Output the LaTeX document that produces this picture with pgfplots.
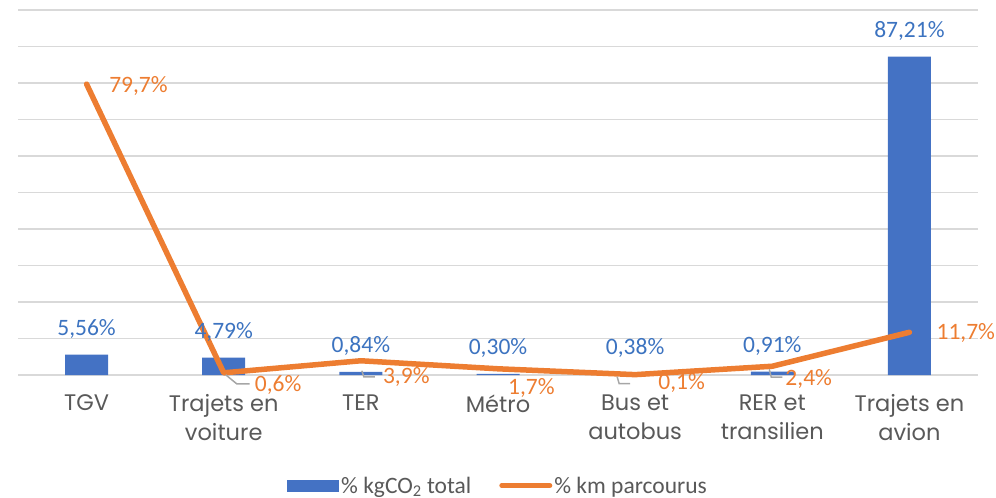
\documentclass[border=0pt]{standalone}
\usepackage{fontspec}
\setmainfont{Carlito}
\newfontfamily\catfont{Poppins}
\usepackage{pgfplots}
\pgfplotsset{compat=1.18}
\definecolor{cblue}{HTML}{4472C4}
\definecolor{cbluetxt}{HTML}{3C73C0}
\definecolor{corange}{HTML}{ED7D31}
\definecolor{cgray}{HTML}{595959}
\definecolor{cgrid}{HTML}{D9D9D9}
\definecolor{clead}{HTML}{A6A6A6}
\begin{document}
\begin{tikzpicture}
\useasboundingbox (0,0) rectangle (996pt,498pt);
\begin{axis}[
 at={(18pt,123pt)}, anchor=south west,
 scale only axis, width=960pt, height=365pt,
 xmin=-0.5, xmax=6.5, ymin=0, ymax=100,
 ytick={0,10,...,100}, yticklabels={},
 ymajorgrids, grid style={cgrid, line width=1.5pt},
 axis line style={draw=none}, major tick length=0pt,
 xtick={0,1,2,3,4,5,6},
 xticklabels={TGV, Trajets en\\voiture, TER, Métro, Bus et\\autobus, RER et\\transilien, Trajets en\\avion},
 xticklabel style={font=\catfont\fontsize{22.5}{29}\selectfont, text=cgray, align=center, anchor=north, yshift=-16pt},
 clip=false,
 legend style={at={(0.5,-0.303)}, anchor=center, draw=none, fill=none, legend columns=2,
   font=\fontsize{23.5}{28}\selectfont, text=cgray,
   /tikz/every even column/.append style={column sep=26pt}},
 legend cell align=left,
]
\addplot[ybar, bar width=43pt, fill=cblue, draw=none,
  point meta=explicit symbolic, nodes near coords,
  every node near coord/.append style={font=\fontsize{23.5}{28}\selectfont, text=cbluetxt, anchor=center, yshift=26pt},
  legend image code/.code={\fill[cblue] (0pt,-6pt) rectangle (52pt,6pt);}]
  coordinates {(0,5.56)[5,56\%] (1,4.79)[4,79\%] (2,0.84)[0,84\%] (3,0.30)[0,30\%] (4,0.38)[0,38\%] (5,0.91)[0,91\%] (6,87.21)[87,21\%]};
\addlegendentry{\% kgCO\textsubscript{2} total}
\addplot[corange, line width=5.5pt, line join=round, line cap=round, mark=none,
  legend image code/.code={\draw[corange, line width=5pt, line cap=round] (0pt,0pt) -- (48pt,0pt);}]
  coordinates {(0,79.7) (1,0.6) (2,3.9) (3,1.7) (4,0.1) (5,2.4) (6,11.7)};
\addlegendentry{\% km parcourus}
% leader lines
\draw[clead, line width=1.5pt] (axis cs:1,0.6) ++(2pt,-2pt) -- ++(11pt,-9pt) -- ++(13pt,0pt);
\draw[clead, line width=1.5pt] (axis cs:2,3.9) ++(1pt,-10pt) -- ++(2pt,-6pt) -- ++(11pt,0pt);
\draw[clead, line width=1.5pt] (axis cs:4,0.1) ++(-18pt,-2pt) -- ++(2pt,-7pt) -- ++(11pt,0pt);
\draw[clead, line width=1.5pt] (axis cs:5,2.4) ++(-3pt,-3pt) -- ++(2pt,-8pt) -- ++(11pt,0pt);
% line labels
\begin{scope}[every node/.style={font=\fontsize{23.5}{28}\selectfont, text=corange, anchor=west, inner sep=0pt}]
\node[xshift=22.5pt, yshift=-2pt] at (axis cs:0,79.7) {79,7\%};
\node[xshift=31pt, yshift=-12pt] at (axis cs:1,0.6) {0,6\%};
\node[xshift=22pt, yshift=-16pt] at (axis cs:2,3.9) {3,9\%};
\node[xshift=10pt, yshift=-19pt] at (axis cs:3,1.7) {1,7\%};
\node[xshift=23pt, yshift=-8pt] at (axis cs:4,0.1) {0,1\%};
\node[xshift=13pt, yshift=-13pt] at (axis cs:5,2.4) {2,4\%};
\node[xshift=27pt, yshift=-1pt] at (axis cs:6,11.7) {11,7\%};
\end{scope}
\end{axis}
\end{tikzpicture}
\end{document}
